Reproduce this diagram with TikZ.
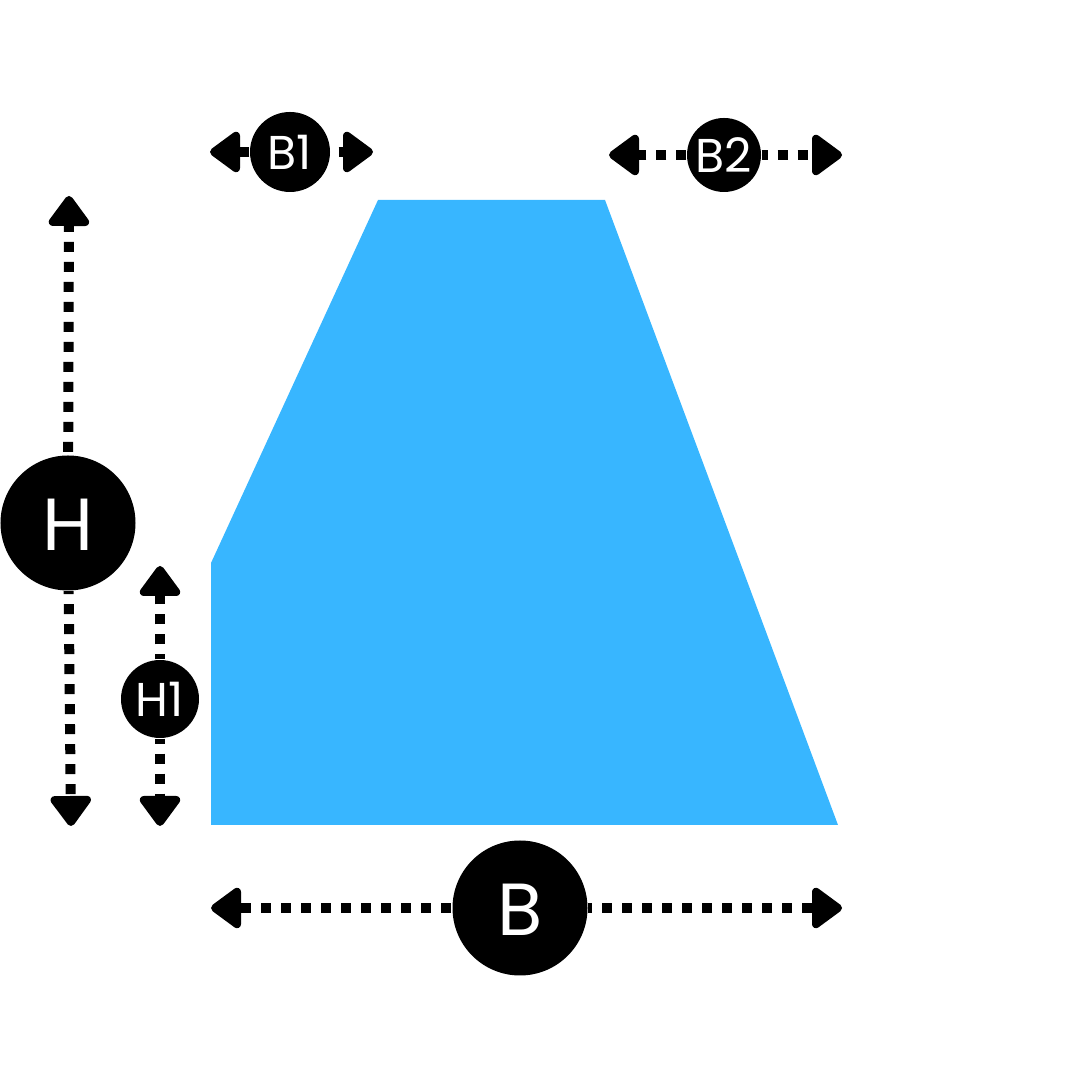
\documentclass[tikz,border=0pt]{standalone}
\usepackage{fontspec}
\setmainfont{Poppins}
\usetikzlibrary{arrows.meta}
\definecolor{trapezblue}{HTML}{38B6FF}
\tikzset{
	dimline/.style={line width=1mm, dash pattern=on 1mm off 1mm, -{Triangle[width=4.6mm, length=3.3mm, line width=0.8mm, round, sep=0pt]}},
	biglabel/.style={circle, fill=black, text=white, inner sep=0pt, minimum size=13.5mm, text height=5.5mm, font=\fontsize{21}{21}\selectfont},
	smalllabel/.style={circle, fill=black, text=white, inner sep=0pt, minimum size=7.8mm, font=\fontsize{13.5}{13.5}\selectfont},
}
\begin{document}
\begin{tikzpicture}
	\useasboundingbox (0,0) rectangle (10.8,10.8);

	\fill[trapezblue] (2.11,2.55) -- (2.11,5.17) -- (3.78,8.80) -- (6.05,8.80) -- (8.38,2.55) -- cycle;

	\node[biglabel] (h) at (0.68,5.57) {H};
	\node[biglabel] (b) at (5.20,1.72) {B};
	\node[smalllabel] (h1) at (1.60,3.81) {H1};
	\node[smalllabel, minimum size=8mm] (b1) at (2.90,9.28) {B1};
	\node[smalllabel, minimum size=7.4mm] (b2) at (7.24,9.25) {B2};

	\coordinate (htop) at (0.69,8.84);
	\coordinate (hbot) at (0.71,2.54);
	\coordinate (h1top) at (1.60,5.14);
	\coordinate (h1bot) at (1.60,2.54);
	\coordinate (bleft) at (2.11,1.72);
	\coordinate (bright) at (8.42,1.72);
	\coordinate (b1left) at (2.10,9.28);
	\coordinate (b1right) at (3.73,9.28);
	\coordinate (b2left) at (6.09,9.25);
	\coordinate (b2right) at (8.42,9.25);

	\draw[dimline, dash phase=1.7mm] (h) -- (htop);
	\draw[dimline, dash phase=0.7mm] (h) -- (hbot);
	\draw[dimline, dash phase=0.5mm] (h1) -- (h1top);
	\draw[dimline, dash phase=0.5mm] (h1) -- (h1bot);
	\draw[dimline, dash phase=1.9mm] (b) -- (bleft);
	\draw[dimline, dash phase=0.6mm] (b) -- (bright);
	\draw[dimline] (b1) -- (b1left);
	\draw[dimline, dash phase=1.2mm] (b1) -- (b1right);
	\draw[dimline] (b2) -- (b2left);
	\draw[dimline, dash phase=0.4mm] (b2) -- (b2right);
\end{tikzpicture}
\end{document}
